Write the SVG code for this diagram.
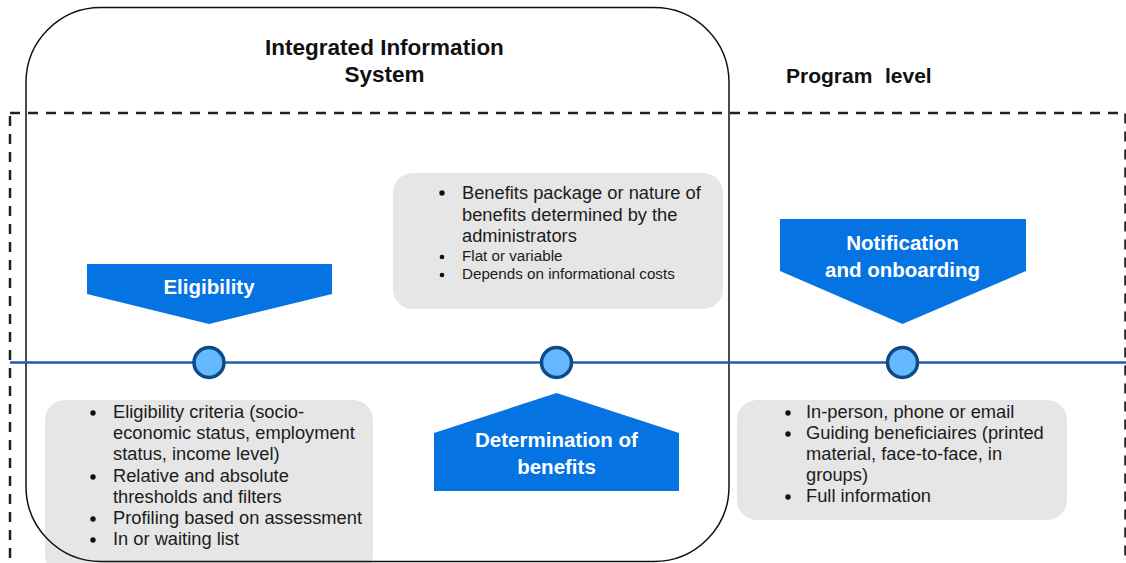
<svg xmlns="http://www.w3.org/2000/svg" width="1126" height="563" viewBox="0 0 1126 563">
  <style>
    .title { font-family: "Liberation Sans", Arial, sans-serif; font-weight: bold; fill: #111; }
    .stage { fill: #0573e1; }
    .stage-label { font-family: "Liberation Sans", Arial, sans-serif; font-weight: bold; font-size: 20.5px; fill: #ffffff; text-anchor: middle; }
    .note { fill: #e6e6e6; }
    .item { font-family: "Liberation Sans", Arial, sans-serif; font-size: 18.3px; fill: #1c1c1c; }
    .item-small { font-family: "Liberation Sans", Arial, sans-serif; font-size: 15.2px; fill: #1c1c1c; }
    .dot { fill: #111; }
    .milestone { fill: #66b8ff; stroke: #0d4a86; stroke-width: 3.5; }
  </style>

  <rect width="1126" height="563" fill="#ffffff"/>

  <!-- program-level dashed frame -->
  <rect id="program-frame" x="10" y="113" width="1115.5" height="520" fill="none" stroke="#222" stroke-width="2.5" stroke-dasharray="10 8"/>

  <!-- note boxes -->
  <g id="benefits-notes">
    <rect class="note" x="393" y="173" width="330" height="136" rx="20"/>
    <circle class="dot" cx="442" cy="193" r="2.7"/>
    <text class="item" x="462" y="199">Benefits package or nature of</text>
    <text class="item" x="462" y="221">benefits determined by the</text>
    <text class="item" x="462" y="242">administrators</text>
    <circle class="dot" cx="442" cy="257" r="2.3"/>
    <text class="item-small" x="462" y="261">Flat or variable</text>
    <circle class="dot" cx="442" cy="275" r="2.3"/>
    <text class="item-small" x="462" y="279">Depends on informational costs</text>
  </g>

  <g id="eligibility-notes">
    <rect class="note" x="45" y="400" width="328" height="175" rx="20"/>
    <circle class="dot" cx="93" cy="413" r="2.7"/>
    <text class="item" x="113" y="418">Eligibility criteria (socio-</text>
    <text class="item" x="113" y="439">economic status, employment</text>
    <text class="item" x="113" y="460">status, income level)</text>
    <circle class="dot" cx="93" cy="477" r="2.7"/>
    <text class="item" x="113" y="482">Relative and absolute</text>
    <text class="item" x="113" y="503">thresholds and filters</text>
    <circle class="dot" cx="93" cy="519" r="2.7"/>
    <text class="item" x="113" y="524">Profiling based on assessment</text>
    <circle class="dot" cx="93" cy="540" r="2.7"/>
    <text class="item" x="113" y="545">In or waiting list</text>
  </g>

  <g id="notification-notes">
    <rect class="note" x="737" y="400" width="330" height="120" rx="20"/>
    <circle class="dot" cx="788" cy="413" r="2.7"/>
    <text class="item" x="806" y="418">In-person, phone or email</text>
    <circle class="dot" cx="788" cy="434" r="2.7"/>
    <text class="item" x="806" y="439">Guiding beneficiaires (printed</text>
    <text class="item" x="806" y="460">material, face-to-face, in</text>
    <text class="item" x="806" y="481">groups)</text>
    <circle class="dot" cx="788" cy="497" r="2.7"/>
    <text class="item" x="806" y="502">Full information</text>
  </g>

  <!-- integrated information system boundary -->
  <g id="integrated-information-system">
    <rect x="26" y="7.5" width="703" height="554" rx="75" fill="none" stroke="#111" stroke-width="1.5"/>
    <text class="title" font-size="22.5" x="384.5" y="55" text-anchor="middle">Integrated Information</text>
    <text class="title" font-size="22.5" x="384.5" y="82" text-anchor="middle">System</text>
  </g>

  <g id="program-level-label">
    <text class="title" font-size="21" y="83"><tspan x="786">Program</tspan><tspan x="885">level</tspan></text>
  </g>

  <!-- timeline -->
  <g id="connectors">
    <line x1="10" y1="362.5" x2="1126" y2="362.5" stroke="#1f5ea6" stroke-width="2.7"/>
  </g>

  <!-- milestones on the timeline -->
  <g id="milestone-eligibility"><circle class="milestone" cx="209" cy="362.5" r="15"/></g>
  <g id="milestone-benefits"><circle class="milestone" cx="556.5" cy="362.5" r="15"/></g>
  <g id="milestone-notification"><circle class="milestone" cx="902.5" cy="362.5" r="15"/></g>

  <!-- stage markers -->
  <g id="stage-eligibility">
    <polygon class="stage" points="87,264 332,264 332,294 209,324 87,294"/>
    <text class="stage-label" x="209" y="294">Eligibility</text>
  </g>

  <g id="stage-notification">
    <polygon class="stage" points="780,219 1026,219 1026,271 902.5,324 780,271"/>
    <text class="stage-label" x="902.5" y="250">Notification</text>
    <text class="stage-label" x="902.5" y="277">and onboarding</text>
  </g>

  <g id="stage-benefits">
    <polygon class="stage" points="556.5,393 679,433 679,491 434,491 434,433"/>
    <text class="stage-label" x="556.5" y="447">Determination of</text>
    <text class="stage-label" x="556.5" y="474">benefits</text>
  </g>
</svg>
